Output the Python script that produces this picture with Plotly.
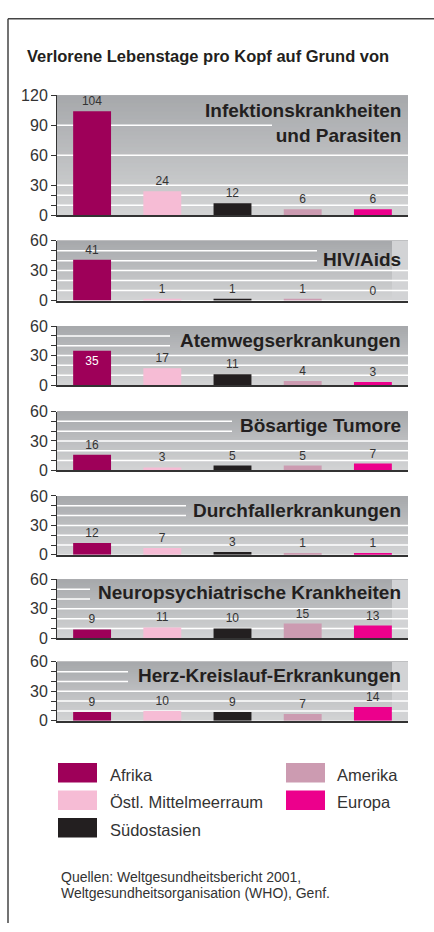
import plotly.graph_objects as go

# ---------------- data ----------------
regions = ["Afrika", "Östl. Mittelmeerraum", "Südostasien", "Amerika", "Europa"]
region_colors = ["#9e0059", "#f6bcd5", "#231f20", "#cc9bb1", "#ec008c"]

causes = [
    "Infektionskrankheiten<br>und Parasiten",
    "HIV/Aids",
    "Atemwegserkrankungen",
    "Bösartige Tumore",
    "Durchfallerkrankungen",
    "Neuropsychiatrische Krankheiten",
    "Herz-Kreislauf-Erkrankungen",
]
infektionen = [104, 24, 12, 6, 6]
hiv_aids = [41, 1, 1, 1, 0]
atemwege = [35, 17, 11, 4, 3]
tumore = [16, 3, 5, 5, 7]
durchfall = [12, 7, 3, 1, 1]
neuropsych = [9, 11, 10, 15, 13]
herz_kreislauf = [9, 10, 9, 7, 14]
values = [infektionen, hiv_aids, atemwege, tumore, durchfall, neuropsych, herz_kreislauf]

y_max = [120, 60, 60, 60, 60, 60, 60]
major_ticks = [[0, 30, 60, 90, 120]] + [[0, 30, 60]] * 6
minor_ticks = [[10, 20]] + [[10, 20, 40, 50]] * 6

title = "Verlorene Lebenstage pro Kopf auf Grund von"
source_lines = ["Quellen: Weltgesundheitsbericht 2001,",
                "Weltgesundheitsorganisation (WHO), Genf."]

# ---------------- layout geometry (pixels) ----------------
W, H = 434, 932
FONT = "Liberation Sans, Arial, Helvetica, sans-serif"
TXT = "#333333"
px_top = [89, 237, 324, 411, 497, 582, 666]
px_bot = [211, 298, 384, 471, 557, 642, 726]
x_left, x_right = 57, 408
title_center = [117, 256, 339, 425, 512, 595, 680]
short_grid_end = [272, 317, 170, 232, 186, 90, 128]
light_strip = [False, True, False, False, False, True, True]


def px(x):
    return x / W


def py(y):
    return 1 - y / H


def mix(c1, c2, t):
    a = [int(c1[i:i + 2], 16) for i in (1, 3, 5)]
    b = [int(c2[i:i + 2], 16) for i in (1, 3, 5)]
    return "#%02x%02x%02x" % tuple(round(a[i] + (b[i] - a[i]) * t) for i in range(3))


fig = go.Figure()
shapes = []
annotations = []
layout_axes = {}

for i in range(7):
    n = i + 1
    xa = "x" if n == 1 else f"x{n}"
    ya = "y" if n == 1 else f"y{n}"
    xk = "xaxis" if n == 1 else f"xaxis{n}"
    yk = "yaxis" if n == 1 else f"yaxis{n}"
    vals = values[i]
    tpos = ["outside"] * 5
    tcol = [TXT] * 5
    if i == 2:
        tpos[0] = "inside"
        tcol[0] = "white"
    fig.add_trace(go.Bar(
        x=regions, y=vals, xaxis=xa, yaxis=ya,
        marker=dict(color=region_colors, line=dict(width=0)),
        width=0.54,
        text=[str(v) for v in vals],
        textposition=tpos,
        insidetextanchor="end",
        textfont=dict(family=FONT, size=12, color=tcol),
        constraintext="none",
        cliponaxis=False,
        showlegend=False,
        hoverinfo="skip",
    ))
    layout_axes[xk] = dict(
        domain=[px(x_left), px(x_right)], anchor=ya,
        showticklabels=False, ticks="", showgrid=False, zeroline=False,
        showline=True, linecolor="#333333", linewidth=1.5,
        range=[-0.5, 4.5], fixedrange=True,
    )
    layout_axes[yk] = dict(
        domain=[py(px_bot[i]), py(px_top[i])], anchor=xa,
        range=[0, y_max[i]], tickvals=major_ticks[i],
        ticks="outside", ticklen=5, tickwidth=1, tickcolor="#333333",
        tickfont=dict(family=FONT, size=16, color=TXT),
        minor=dict(tickvals=minor_ticks[i], ticks="outside", ticklen=5,
                   tickwidth=1, tickcolor="#333333", showgrid=False),
        showgrid=False, zeroline=False,
        showline=True, linecolor="#333333", linewidth=1,
        fixedrange=True,
    )
    # gradient background (overlapping strips, no seams)
    N = 30
    for k in range(N):
        y0 = y_max[i] * k / N
        col = mix("#d3d4d5", "#a6a8ab", (k + 0.5) / N)
        shapes.append(dict(type="rect", xref="paper", yref=ya,
                           x0=px(x_left), x1=px(x_right), y0=y0, y1=y_max[i],
                           fillcolor=col, line=dict(width=0), layer="below"))
    if light_strip[i]:
        shapes.append(dict(type="rect", xref="paper", yref=ya,
                           x0=px(392), x1=px(x_right), y0=0, y1=y_max[i],
                           fillcolor="#d2d3d5", line=dict(width=0), layer="below"))
    # gridlines
    if i == 0:
        full, short = [10, 20, 30, 60], [90]
    else:
        full, short = [10, 20, 30], [40, 50]
    for g in full:
        shapes.append(dict(type="line", xref="paper", yref=ya,
                           x0=px(x_left), x1=px(x_right), y0=g, y1=g,
                           line=dict(color="white", width=1.5), layer="below"))
    for g in short:
        shapes.append(dict(type="line", xref="paper", yref=ya,
                           x0=px(x_left), x1=px(short_grid_end[i]), y0=g, y1=g,
                           line=dict(color="white", width=1.5), layer="below"))
    # panel title
    annotations.append(dict(
        text=f"<b>{causes[i]}</b>", xref="paper", yref="paper",
        x=px(403), y=py(title_center[i]), xanchor="right", yanchor="middle",
        align="right", showarrow=False,
        font=dict(family=FONT, size=19, color="#231f20"),
    ))

# main title
annotations.append(dict(
    text=f"<b>{title}</b>", xref="paper", yref="paper",
    x=px(25), y=py(48.5), xanchor="left", yanchor="middle",
    showarrow=False, font=dict(family=FONT, size=16.5, color="#231f20"),
))

# legend (manual)
leg_rows = [779, 807, 835]
for j, (name, col) in enumerate(zip(regions, region_colors)):
    column = 0 if j < 3 else 1
    row = j if j < 3 else j - 3
    sx = 58 if column == 0 else 286
    tx = 108 if column == 0 else 335
    cy = leg_rows[row]
    shapes.append(dict(type="rect", xref="paper", yref="paper",
                       x0=px(sx), x1=px(sx + 39), y0=py(cy + 10), y1=py(cy - 10),
                       fillcolor=col, line=dict(width=0)))
    annotations.append(dict(
        text=name, xref="paper", yref="paper", x=px(tx), y=py(cy + 2),
        xanchor="left", yanchor="middle", showarrow=False,
        font=dict(family=FONT, size=16.5, color=TXT),
    ))

# source
for j, line in enumerate(source_lines):
    annotations.append(dict(
        text=line, xref="paper", yref="paper", x=px(59), y=py(885 + 16 * j),
        xanchor="left", yanchor="middle", showarrow=False,
        font=dict(family=FONT, size=14, color=TXT),
    ))

# frame lines
shapes.append(dict(type="line", xref="paper", yref="paper",
                   x0=px(8), x1=px(8), y0=py(11), y1=0,
                   line=dict(color="#444444", width=1.5)))
shapes.append(dict(type="line", xref="paper", yref="paper",
                   x0=px(8), x1=1, y0=py(11), y1=py(11),
                   line=dict(color="#444444", width=1.5)))

fig.update_layout(
    width=W, height=H, margin=dict(l=0, r=0, t=0, b=0),
    paper_bgcolor="white", plot_bgcolor="rgba(0,0,0,0)",
    shapes=shapes, annotations=annotations,
    bargap=0.46, showlegend=False,
    font=dict(family=FONT, color=TXT),
    **layout_axes,
)

fig.write_html("out.html", config={"displayModeBar": False},
               post_script="document.body.style.margin='0';document.body.style.overflow='hidden';")
